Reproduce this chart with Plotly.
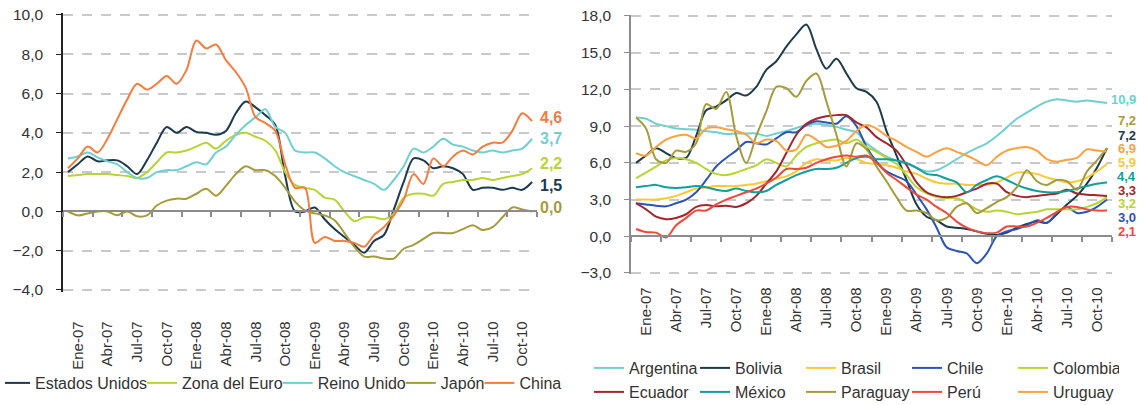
import plotly.graph_objects as go

# ---------------- data ----------------
months = list(range(48))  # Ene-07 .. Dic-10, monthly
tick_labels = ["Ene-07", "Abr-07", "Jul-07", "Oct-07",
               "Ene-08", "Abr-08", "Jul-08", "Oct-08",
               "Ene-09", "Abr-09", "Jul-09", "Oct-09",
               "Ene-10", "Abr-10", "Jul-10", "Oct-10"]

# Left panel: advanced economies + China
estados_unidos = [2.0, 2.4, 2.8, 2.55, 2.6, 2.6, 2.3, 1.9, 2.6, 3.5,
                  4.3, 4.0, 4.3, 4.05, 4.0, 3.9, 4.1, 5.0, 5.6, 5.3,
                  4.9, 4.4, 1.8, 0.0, 0.0, 0.2, -0.4, -0.9, -1.3, -1.7,
                  -2.1, -1.5, -1.2, 0.1, 1.5, 2.7, 2.6, 2.2, 2.3, 2.2,
                  1.9, 1.1, 1.2, 1.2, 1.1, 1.2, 1.1, 1.5]
zona_euro = [1.8, 1.85, 1.9, 1.9, 1.9, 1.85, 1.8, 1.7, 2.0, 2.5,
             3.0, 3.0, 3.1, 3.3, 3.5, 3.2, 3.6, 3.9, 4.0, 3.8,
             3.6, 3.1, 2.0, 1.35, 1.2, 1.1, 0.7, 0.6, 0.0, -0.5,
             -0.3, -0.3, -0.4, -0.1, 0.7, 0.9, 0.9, 0.8, 1.4, 1.5,
             1.6, 1.6, 1.7, 1.6, 1.7, 1.8, 1.9, 2.2]
reino_unido = [2.7, 2.8, 3.0, 2.75, 2.55, 2.4, 2.0, 1.7, 1.7, 2.0,
               2.1, 2.1, 2.3, 2.5, 2.4, 3.0, 3.3, 3.9, 4.4, 4.8,
               5.2, 4.3, 4.0, 3.1, 3.0, 3.0, 2.7, 2.3, 2.0, 1.8,
               1.6, 1.4, 1.1, 1.6, 2.3, 3.2, 3.0, 3.3, 3.7, 3.4,
               3.3, 3.1, 3.0, 3.1, 3.0, 3.1, 3.2, 3.7]
japon = [0.0, -0.2, -0.1, 0.0, 0.0, -0.2, 0.0, -0.25, -0.2, 0.3,
         0.55, 0.65, 0.65, 0.9, 1.15, 0.8, 1.3, 1.9, 2.3, 2.1,
         2.1, 1.8, 1.2, 0.5, 0.05, -0.1, -0.2, -0.45, -1.1, -1.8,
         -2.3, -2.3, -2.4, -2.4, -1.9, -1.7, -1.4, -1.1, -1.1, -1.1,
         -0.9, -0.7, -0.95, -0.8, -0.3, 0.2, 0.1, 0.0]
china = [2.2, 2.7, 3.3, 3.0, 3.7, 4.7, 5.7, 6.5, 6.2, 6.5,
         6.9, 6.5, 7.2, 8.7, 8.3, 8.5, 7.7, 7.1, 6.3, 4.8,
         4.5, 4.1, 2.4, 1.2, 1.2, -1.6, -1.3, -1.5, -1.5, -1.6,
         -1.8, -1.2, -0.8, -0.2, 0.6, 1.9, 1.4, 2.7, 2.3, 2.8,
         3.1, 2.9, 3.3, 3.5, 3.5, 4.1, 5.0, 4.6]

# Right panel: Latin America
argentina = [9.7, 9.6, 9.2, 9.0, 8.8, 8.75, 8.7, 8.6, 8.5, 8.35,
             8.4, 8.4, 8.4, 8.2, 8.4, 8.6, 8.85, 9.1, 9.2, 9.1,
             8.95, 8.7, 8.5, 7.6, 7.0, 6.5, 6.2, 5.9, 5.6, 5.3,
             5.4, 5.8, 6.3, 6.8, 7.2, 7.6, 8.2, 8.9, 9.6, 10.1,
             10.6, 11.0, 11.2, 11.1, 11.0, 11.1, 11.0, 10.9]
bolivia = [6.0, 6.6, 7.2, 6.8, 6.4, 6.4, 8.2, 10.3, 10.6, 11.1,
           11.7, 11.5, 12.2, 13.6, 14.3, 15.5, 16.5, 17.3, 15.3, 13.7,
           14.5, 13.3, 12.1, 11.8, 11.0, 8.6, 6.6, 4.6, 2.6, 1.6,
           1.3, 0.8, 0.7, 0.6, 0.4, 0.2, 0.1, 0.3, 0.7, 1.0,
           1.2, 1.1, 1.8, 2.6, 3.3, 4.3, 5.6, 7.2]
brasil = [3.0, 3.0, 3.0, 3.1, 3.3, 3.6, 3.9, 4.0, 4.1, 4.1,
          4.1, 4.2, 4.3, 4.5, 4.7, 4.9, 5.3, 6.0, 6.3, 6.2,
          6.2, 6.4, 6.3, 6.0, 5.9, 5.8, 5.6, 5.3, 5.1, 4.7,
          4.4, 4.3, 4.3, 4.2, 4.2, 4.2, 4.4, 4.8, 5.2, 5.2,
          5.1, 4.8, 4.6, 4.4, 4.5, 4.8, 5.3, 5.9]
chile = [2.7, 2.6, 2.5, 2.45, 2.7, 3.0, 3.6, 4.6, 5.7, 6.4,
         7.0, 7.7, 7.6, 7.5, 8.0, 8.5, 8.5, 9.1, 9.4, 9.3,
         9.2, 9.8, 9.0, 7.3, 6.1, 5.3, 4.9, 4.5, 3.4, 2.2,
         0.7, -0.9, -1.2, -1.4, -2.2, -1.4, 0.0, 0.4, 0.6, 0.9,
         1.3, 1.1, 1.9, 2.4, 1.9, 2.0, 2.4, 3.0]
colombia = [4.75, 5.2, 5.7, 6.2, 6.4, 6.3, 6.0, 5.5, 5.1, 5.0,
            5.2, 5.5, 5.8, 6.3, 6.0, 5.7, 6.6, 7.3, 7.6, 7.8,
            7.9, 7.6, 7.9, 7.3, 6.9, 6.4, 5.9, 5.0, 4.0, 3.5,
            3.2, 3.1, 3.1, 2.7, 2.2, 2.0, 2.1, 2.0, 1.8, 1.9,
            2.0, 2.2, 2.2, 2.2, 2.2, 2.4, 2.7, 3.2]
ecuador = [2.7, 2.2, 1.6, 1.4, 1.5, 1.8, 2.4, 2.55, 2.45, 2.5,
           2.4, 2.7, 3.3, 4.3, 5.3, 6.8, 8.3, 9.2, 9.6, 9.8,
           9.9, 9.9, 9.3, 8.9, 8.1, 7.6, 7.0, 5.8, 4.4, 3.6,
           3.3, 3.2, 3.3, 3.6, 3.9, 4.3, 4.3, 3.6, 3.3, 3.2,
           3.3, 3.4, 3.5, 3.8, 3.5, 3.4, 3.35, 3.3]
mexico = [4.0, 4.1, 4.2, 4.0, 3.95, 4.0, 4.1, 4.0, 3.8, 3.7,
          3.9, 3.7, 3.6, 3.7, 4.2, 4.6, 5.0, 5.3, 5.5, 5.5,
          5.6, 6.0, 6.4, 6.5, 6.3, 6.3, 6.2, 6.0, 5.6, 5.1,
          5.0, 4.7, 4.4, 3.6, 4.2, 4.6, 4.9, 4.6, 4.2, 3.9,
          3.7, 3.6, 3.6, 3.7, 3.9, 4.1, 4.3, 4.4]
paraguay = [9.7, 8.8, 6.3, 6.0, 7.0, 6.9, 7.6, 10.8, 10.4, 11.8,
            8.2, 6.0, 8.2, 10.2, 12.2, 12.1, 11.4, 12.7, 13.3, 11.0,
            8.3, 5.7, 7.6, 7.1, 5.7, 4.5, 3.2, 2.1, 2.1, 1.9,
            1.3, 1.5, 2.4, 2.7, 1.9, 2.3, 2.8, 3.2, 4.0, 5.4,
            4.5, 4.2, 4.6, 4.5, 3.8, 5.3, 6.2, 7.2]
peru = [0.6, 0.35, 0.3, -0.1, 0.9, 1.5, 2.1, 2.1, 2.6, 3.0,
        3.3, 3.6, 3.9, 4.3, 4.8, 5.5, 5.5, 5.6, 6.0, 6.3,
        6.5, 6.6, 6.5, 6.6, 6.0, 5.2, 4.6, 4.0, 3.4, 3.0,
        2.4, 1.9, 1.2, 0.7, 0.4, 0.25, 0.3, 0.8, 0.8, 0.8,
        1.1, 1.5, 2.0, 2.4, 2.4, 2.2, 2.1, 2.1]
uruguay = [6.8, 6.6, 7.3, 7.9, 8.2, 8.3, 8.0, 8.8, 8.9, 8.75,
           8.6, 8.3, 7.6, 7.9, 7.8, 7.0, 7.1, 8.3, 7.9, 7.3,
           7.4, 7.8, 8.6, 9.1, 8.8, 8.2, 7.8, 7.3, 6.9, 6.5,
           6.9, 7.2, 6.9, 6.6, 6.2, 5.8, 6.5, 7.0, 7.2, 7.3,
           7.0, 6.3, 6.1, 6.25, 6.4, 7.1, 7.0, 6.9]

# ---------------- styling ----------------
FONT = "Liberation Sans, Arial, sans-serif"
TXT = "#333333"
GRID = "#c9c9c9"
AXG = "#8c8c8c"

left_series = [
    ("Estados Unidos", estados_unidos, "#1b3a4b"),
    ("Zona del Euro", zona_euro, "#b8d432"),
    ("Reino Unido", reino_unido, "#6fcfd1"),
    ("Japón", japon, "#a69b3a"),
    ("China", china, "#f47c3c"),
]
right_series = [
    ("Argentina", argentina, "#6fcfd1"),
    ("Bolivia", bolivia, "#1b3a4b"),
    ("Brasil", brasil, "#fdc932"),
    ("Chile", chile, "#2b54b4"),
    ("Colombia", colombia, "#b8d432"),
    ("Ecuador", ecuador, "#a4262c"),
    ("México", mexico, "#10a09b"),
    ("Paraguay", paraguay, "#a69b3a"),
    ("Perú", peru, "#f0493b"),
    ("Uruguay", uruguay, "#f9a23e"),
]

fig = go.Figure()
for name, vals, col in left_series:
    fig.add_trace(go.Scatter(x=months, y=vals, name=name, mode="lines",
                             line=dict(color=col, width=2, shape="spline", smoothing=0.9),
                             xaxis="x", yaxis="y", legend="legend"))
for k, (name, vals, col) in enumerate(right_series):
    fig.add_trace(go.Scatter(x=months, y=vals, name=name, mode="lines",
                             line=dict(color=col, width=2, shape="spline", smoothing=0.9),
                             xaxis="x2", yaxis="y2",
                             legend="legend2" if k < 5 else "legend3"))

# full-window figure (the page margin is removed in post_script below)
W, H, OFF = 1147, 405, 0
def px_x(px):
    return (px - OFF) / W
def px_y(py):
    return 1 - (py - OFF) / H

# axis ranges padded slightly so the end gridlines are kept
lrange = [-4.1, 10.1]
rrange = [-3.1, 18.1]
l_ppu = (290 - 15) / 14.0      # pixels per unit, left panel
r_ppu = (273 - 16) / 21.0      # pixels per unit, right panel
LX = [px_x(63), px_x(537)]
LY = [px_y(290 + 0.1 * l_ppu), px_y(15 - 0.1 * l_ppu)]
RX = [px_x(631), px_x(1112)]
RY = [px_y(273 + 0.1 * r_ppu), px_y(16 - 0.1 * r_ppu)]
zero_left = LY[0] + (LY[1] - LY[0]) * (0 - lrange[0]) / (lrange[1] - lrange[0])
zero_right = RY[0] + (RY[1] - RY[0]) * (0 - rrange[0]) / (rrange[1] - rrange[0])

xr = [-0.5, 47.5]
# tick marks between quarters; each label is centred on its quarter
boundary_ticks = [-0.5 + 3 * k for k in range(17)]
boundary_text = tick_labels + [""]

def xax(domain, pos, standoff, shift):
    return dict(domain=domain, range=xr, anchor="free", position=pos,
                tickmode="array", tickvals=boundary_ticks, ticktext=boundary_text,
                ticks="outside", ticklen=5, tickwidth=1.5, tickcolor=AXG,
                showline=True, linecolor=AXG, linewidth=2,
                tickangle=-90, ticklabelstandoff=standoff, ticklabelshift=shift,
                ticklabeloverflow="allow",
                tickfont=dict(family=FONT, size=15, color=TXT),
                showgrid=False, zeroline=False, fixedrange=True, automargin=False)

def yax(domain, rng, dtick, anchor, linecol):
    return dict(domain=domain, range=rng, dtick=dtick, tick0=0, anchor=anchor,
                tickformat=".1f", ticks="outside", ticklen=5, tickcolor=linecol,
                showline=True, linecolor=linecol, linewidth=1.5,
                ticklabelstandoff=10, ticklabeloverflow="allow",
                showgrid=True, gridcolor=GRID, gridwidth=1.5, griddash="10px,9px",
                zeroline=False, fixedrange=True, automargin=False,
                tickfont=dict(family=FONT, size=15.5, color=TXT))

legend_common = dict(orientation="h", xanchor="left", yanchor="top",
                     font=dict(family=FONT, size=16, color=TXT),
                     bgcolor="rgba(0,0,0,0)", itemclick=False, itemdoubleclick=False)

fig.update_layout(
    width=W, height=H,
    margin=dict(l=0, r=0, t=0, b=0, autoexpand=False),
    paper_bgcolor="white", plot_bgcolor="white",
    separators=",.",
    font=dict(family=FONT, color=TXT),
    xaxis=xax(LX, zero_left, 98, 15),
    yaxis=yax(LY, lrange, 2, "x", "#222222"),
    xaxis2=xax(RX, zero_right, 39, 15),
    yaxis2=yax(RY, rrange, 3, "x2", AXG),
    legend=dict(legend_common, x=px_x(5), y=px_y(366), indentation=-10),
    legend2=dict(legend_common, x=px_x(589), y=px_y(351),
                 entrywidth=61, entrywidthmode="pixels"),
    legend3=dict(legend_common, x=px_x(589), y=px_y(375),
                 entrywidth=61, entrywidthmode="pixels"),
    showlegend=True,
)

# end-of-series value labels (positions chosen to avoid overlap)
def fmt(v):
    return f"{v:.1f}".replace(".", ",")

left_label_y = {"China": 4.8, "Reino Unido": 3.7, "Zona del Euro": 2.45,
                "Estados Unidos": 1.33, "Japón": 0.2}
for name, vals, col in left_series:
    fig.add_annotation(x=(537 - 63 + 1) / (537 - 63), y=left_label_y[name],
                       xref="x domain", yref="y",
                       text=f"<b>{fmt(vals[-1])}</b>", showarrow=False,
                       xanchor="left", yanchor="middle",
                       font=dict(family=FONT, size=16, color=col))

right_label_y = {"Argentina": 11.2, "Paraguay": 9.5, "Bolivia": 8.2,
                 "Uruguay": 7.15, "Brasil": 6.0, "México": 4.85,
                 "Ecuador": 3.75, "Colombia": 2.65, "Chile": 1.55, "Perú": 0.4}
for name, vals, col in right_series:
    fig.add_annotation(x=(1138 - 631) / (1112 - 631), y=right_label_y[name],
                       xref="x2 domain", yref="y2",
                       text=f"<b>{fmt(vals[-1])}</b>", showarrow=False,
                       xanchor="right", yanchor="middle",
                       font=dict(family=FONT, size=13, color=col))

fig.write_html("out.html",
               config={"displayModeBar": False},
               post_script="document.body.style.margin='0';"
                           "document.body.style.overflow='hidden';")
